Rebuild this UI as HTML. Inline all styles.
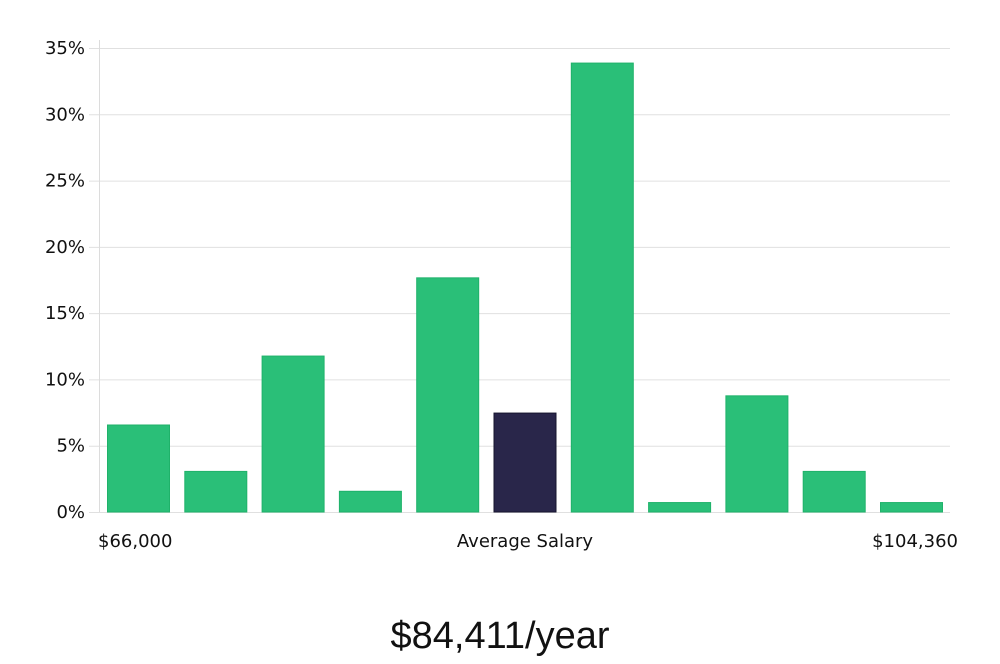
<!DOCTYPE html>
<html><head><meta charset="utf-8">
<style>
html,body{margin:0;padding:0;background:#fff;}
body{width:1000px;height:660px;overflow:hidden;font-family:"DejaVu Sans","Liberation Sans",sans-serif;}
</style></head>
<body>
<svg id="chart" width="1000" height="660" xmlns="http://www.w3.org/2000/svg">
  <g id="grid"></g>
  <line x1="99.5" y1="40" x2="99.5" y2="512" stroke="#dcdcdc" stroke-width="1"/>
  <g id="yticks"></g>
  <g id="bars"></g>
  <text x="98" y="547" font-size="18" fill="#111">$66,000</text>
  <text x="525" y="547" font-size="18" fill="#111" text-anchor="middle">Average Salary</text>
  <text x="958" y="547" font-size="18" fill="#111" text-anchor="end">$104,360</text>
  <text x="500" y="648" font-size="38" fill="#111" text-anchor="middle" font-family="'Liberation Sans',sans-serif" font-weight="300">$84,411/year</text>
</svg>
<script>
const values = [6.6, 3.1, 11.8, 1.6, 17.7, 7.5, 33.9, 0.75, 8.8, 3.1, 0.75];
const highlightIndex = [5];
const yTicks = [0, 5, 10, 15, 20, 25, 30, 35];
const yTickLabels = ["0%", "5%", "10%", "15%", "20%", "25%", "30%", "35%"];

const NS = "http://www.w3.org/2000/svg";
const y0 = 512, y35 = 48;
function y(v){ return y0 - (v/35)*(y0-y35); }
const xStart = 107, step = 77.3, bw = 63;
function x(i){ return xStart + i*step; }

const grid = document.getElementById('grid');
const yt = document.getElementById('yticks');
yTicks.forEach((t,i)=>{
  const l = document.createElementNS(NS,'line');
  
  
  l.setAttribute('x1', 89); l.setAttribute('x2', 950);
  l.setAttribute('y1', y(t)+0.5); l.setAttribute('y2', y(t)+0.5);
  l.setAttribute('stroke', '#e0e0e0'); l.setAttribute('stroke-width', '1');
  grid.appendChild(l);
  const tx = document.createElementNS(NS,'text');
  
  
  tx.setAttribute('x', 85); tx.setAttribute('y', y(t)+6);
  tx.setAttribute('text-anchor', 'end'); tx.setAttribute('font-size', '18'); tx.setAttribute('fill', '#111');
  tx.textContent = yTickLabels[i];
  yt.appendChild(tx);
});

const bars = document.getElementById('bars');
values.forEach((v,i)=>{
  const r = document.createElementNS(NS,'rect');
  
  
  const hi = highlightIndex.includes(i);
  r.setAttribute('x', x(i)+0.5); r.setAttribute('width', bw-1);
  r.setAttribute('y', y(v)+0.5); r.setAttribute('height', Math.max(0, y0 - y(v) - 0.5));
  r.setAttribute('fill', hi ? '#29264a' : '#2abf78');
  r.setAttribute('stroke', hi ? '#16142e' : '#1fb26a'); r.setAttribute('stroke-width', '1');
  bars.appendChild(r);
});
</script>
</body></html>
